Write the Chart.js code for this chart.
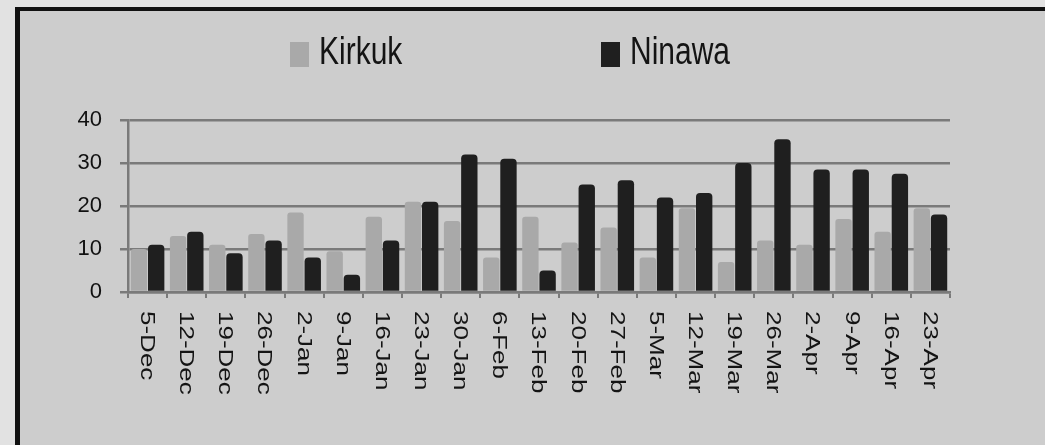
<!DOCTYPE html>
<html>
<head>
<meta charset="utf-8">
<script src="https://cdn.jsdelivr.net/npm/chart.js@4.4.0/dist/chart.umd.min.js"></script>
<style>
  html, body { margin: 0; padding: 0; background: #e2e2e2; }
  #wrap { width: 1045px; height: 445px; }
</style>
</head>
<body>
<div id="wrap"><canvas id="chart-area" width="1045" height="445"></canvas></div>
<script>
var weeks = ['5-Dec', '12-Dec', '19-Dec', '26-Dec', '2-Jan', '9-Jan', '16-Jan', '23-Jan', '30-Jan',
    '6-Feb', '13-Feb', '20-Feb', '27-Feb', '5-Mar', '12-Mar', '19-Mar', '26-Mar', '2-Apr', '9-Apr',
    '16-Apr', '23-Apr'];
var kirkuk = [10, 13, 11, 13.5, 18.5, 9.5, 17.5, 21, 16.5, 8, 17.5, 11.5, 15, 8, 19.5, 7, 12, 11, 17, 14, 19.5];
var ninawa = [11, 14, 9, 12, 8, 4, 12, 21, 32, 31, 5, 25, 26, 22, 23, 30, 35.5, 28.5, 28.5, 27.5, 18];
var yTicks = [0, 10, 20, 30, 40];

var FONT = "'Liberation Sans', Arial, sans-serif";
var STRETCH = 1.3; // the scan is pulled taller than wide

// frame + backdrop, like the scanned excel box
var frame = {
    id: 'frame',
    beforeDraw: function (chart) {
        var ctx = chart.ctx;
        ctx.save();
        ctx.fillStyle = '#e2e2e2';
        ctx.fillRect(0, 0, chart.width, chart.height);
        ctx.fillStyle = '#cdcdcd';
        ctx.fillRect(20, 11, chart.width - 20, chart.height - 11);
        ctx.fillStyle = '#111';
        ctx.fillRect(15, 7, 5, chart.height - 7);
        ctx.fillRect(15, 7, chart.width - 15, 4);
        ctx.restore();
    }
};

// legend drawn by hand so the items can sit far apart
var wideLegend = {
    id: 'wideLegend',
    afterDraw: function (chart) {
        var ctx = chart.ctx;
        var spots = [290, 601];
        ctx.save();
        ctx.font = '30px ' + FONT;
        ctx.textBaseline = 'middle';
        ctx.textAlign = 'left';
        chart.data.datasets.forEach(function (ds, i) {
            var x = spots[i];
            ctx.fillStyle = ds.backgroundColor;
            ctx.fillRect(x, 42, 19, 25);
            ctx.fillStyle = '#141414';
            ctx.save();
            ctx.translate(x + 29, 53);
            ctx.scale(1, STRETCH);
            ctx.fillText(ds.label, 0, 0);
            ctx.restore();
        });
        ctx.restore();
    }
};

// x labels turned clockwise, read top to bottom
var downLabels = {
    id: 'downLabels',
    afterDraw: function (chart) {
        var ctx = chart.ctx;
        var xs = chart.scales.x;
        var top = chart.chartArea.bottom + 19;
        ctx.save();
        ctx.font = '20px ' + FONT;
        ctx.fillStyle = '#141414';
        ctx.textAlign = 'left';
        ctx.textBaseline = 'middle';
        chart.data.labels.forEach(function (lab, i) {
            var x = xs.getPixelForValue(i);
            ctx.save();
            ctx.translate(x - 1, top);
            ctx.rotate(Math.PI / 2);
            ctx.scale(STRETCH, 1);
            ctx.fillText(lab, 0, 0);
            ctx.restore();
        });
        ctx.restore();
    }
};

var config = {
    type: 'bar',
    data: {
        labels: weeks,
        datasets: [{
            label: 'Kirkuk',
            data: kirkuk,
            backgroundColor: '#a9a9a9',
            borderRadius: { topLeft: 3, topRight: 3 },
            borderSkipped: 'bottom'
        }, {
            label: 'Ninawa',
            data: ninawa,
            backgroundColor: '#1f1f1f',
            borderRadius: { topLeft: 4, topRight: 4 },
            borderSkipped: 'bottom'
        }]
    },
    options: {
        responsive: false,
        animation: false,
        categoryPercentage: 0.88,
        barPercentage: 0.95,
        layout: { padding: { left: 20, right: 95, top: 120, bottom: 0 } },
        plugins: {
            legend: { display: false },
            tooltip: { enabled: false }
        },
        scales: {
            x: {
                grid: { color: 'rgba(0,0,0,0)', tickColor: '#7a7a7a', offset: true, tickLength: 6, lineWidth: 2 },
                border: { color: '#7a7a7a', width: 2.5 },
                ticks: { display: false },
                afterFit: function (scale) { scale.height = 153; }
            },
            y: {
                min: 0,
                max: 40,
                afterBuildTicks: function (scale) {
                    scale.ticks = yTicks.map(function (v) { return { value: v }; });
                },
                grid: { color: '#7a7a7a', lineWidth: 2.5, tickLength: 8 },
                border: { color: '#7a7a7a', width: 2.5 },
                ticks: {
                    color: '#111',
                    padding: 18,
                    font: { family: FONT, size: 22 }
                },
                afterFit: function (scale) { scale.width = 108; }
            }
        }
    },
    plugins: [frame, wideLegend, downLabels]
};

$ready = function () {
    var ctx = document.getElementById('chart-area').getContext('2d');
    window.myBars = new Chart(ctx, config);
};
$ready();
</script>
</body>
</html>
